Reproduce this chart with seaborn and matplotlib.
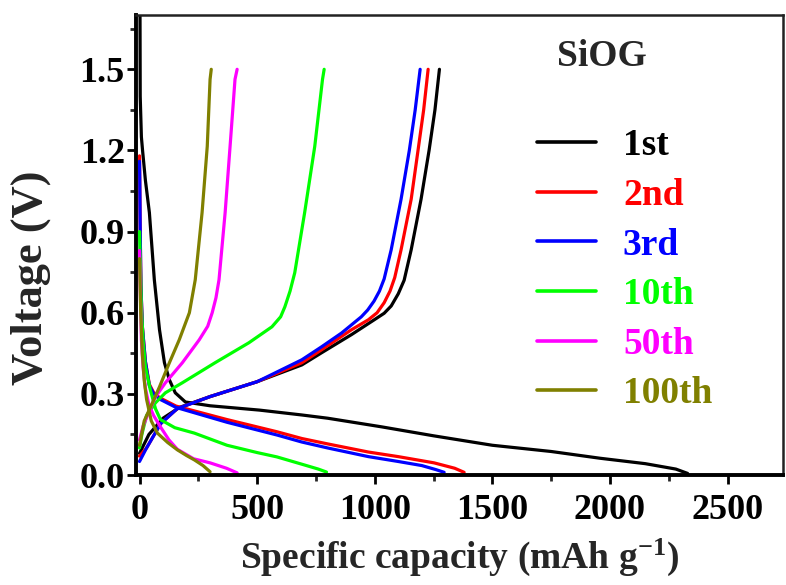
import numpy as np
import pandas as pd
import matplotlib
matplotlib.use("Agg")
import matplotlib.pyplot as plt
import seaborn as sns
from matplotlib.ticker import MultipleLocator, FormatStrFormatter
from matplotlib.lines import Line2D

# ---------------- data ----------------
cycles = ["1st", "2nd", "3rd", "10th", "50th", "100th"]
colors = ["#000000", "#FF0000", "#0000FF", "#00FF00", "#FF00FF", "#808000"]

# discharge branches (capacity mAh/g, voltage V)
d1_cap = [0, 3, 8, 13, 25, 42, 63, 85, 106, 127, 152, 195, 300, 510, 690, 800, 1030, 1250, 1500, 1750, 1958, 2150, 2280, 2330]
d1_v   = [2.5, 1.4, 1.25, 1.2, 1.09, 0.97, 0.722, 0.537, 0.415, 0.352, 0.304, 0.27, 0.256, 0.24, 0.222, 0.21, 0.178, 0.145, 0.11, 0.087, 0.062, 0.042, 0.022, 0.006]
d2_cap = [0, 1, 3, 6, 12, 25, 42, 60, 87, 155, 372, 584, 690, 800, 973, 1100, 1252, 1340, 1380]
d2_v   = [1.18, 1.1, 0.9, 0.7, 0.55, 0.42, 0.335, 0.305, 0.285, 0.255, 0.205, 0.16, 0.135, 0.115, 0.085, 0.068, 0.045, 0.025, 0.01]
d3_cap = [0, 1, 3, 6, 12, 25, 42, 60, 87, 155, 372, 584, 690, 800, 973, 1100, 1200, 1260, 1295]
d3_v   = [1.16, 1.1, 0.9, 0.7, 0.55, 0.42, 0.33, 0.3, 0.28, 0.25, 0.195, 0.148, 0.122, 0.1, 0.068, 0.05, 0.035, 0.02, 0.01]
d10_cap = [0, 3, 8, 15, 25, 46, 68, 89, 150, 233, 372, 500, 584, 690, 760, 795]
d10_v   = [0.9, 0.8, 0.62, 0.5, 0.4, 0.315, 0.245, 0.205, 0.175, 0.155, 0.11, 0.083, 0.067, 0.04, 0.022, 0.011]
d50_cap = [0, 3, 8, 15, 25, 40, 60, 89, 125, 161, 230, 300, 370, 415]
d50_v   = [0.83, 0.7, 0.5, 0.4, 0.32, 0.26, 0.22, 0.178, 0.13, 0.095, 0.06, 0.045, 0.025, 0.008]
d100_cap = [0, 5, 12, 20, 30, 50, 76, 120, 161, 200, 233, 270, 300]
d100_v   = [0.8, 0.6, 0.45, 0.35, 0.28, 0.2, 0.155, 0.12, 0.093, 0.072, 0.056, 0.035, 0.012]

# charge branches
c1_cap = [0, 40, 100, 170, 300, 500, 690, 774, 901, 998, 1040, 1070, 1100, 1125, 1155, 1197, 1231, 1256, 1275]
c1_v   = [0.08, 0.15, 0.21, 0.25, 0.29, 0.345, 0.407, 0.452, 0.519, 0.574, 0.598, 0.625, 0.67, 0.72, 0.833, 1.02, 1.2, 1.35, 1.5]
c2_cap = [0, 30, 90, 160, 300, 500, 690, 774, 901, 973, 1010, 1040, 1065, 1085, 1112, 1155, 1184, 1208, 1227]
c2_v   = [0.07, 0.10, 0.19, 0.245, 0.29, 0.345, 0.415, 0.463, 0.537, 0.574, 0.6, 0.637, 0.68, 0.73, 0.833, 1.02, 1.2, 1.35, 1.5]
c3_cap = [0, 30, 90, 160, 300, 500, 690, 774, 859, 943, 970, 997, 1020, 1040, 1070, 1112, 1147, 1172, 1193]
c3_v   = [0.05, 0.10, 0.19, 0.245, 0.29, 0.345, 0.426, 0.474, 0.525, 0.585, 0.61, 0.643, 0.68, 0.725, 0.833, 1.02, 1.2, 1.35, 1.5]
c10_cap = [0, 10, 30, 68, 110, 182, 321, 465, 563, 600, 618, 640, 660, 702, 745, 778, 785]
c10_v   = [0.1, 0.15, 0.22, 0.267, 0.304, 0.341, 0.415, 0.489, 0.548, 0.585, 0.622, 0.68, 0.748, 0.97, 1.215, 1.463, 1.5]
c50_cap = [0, 15, 40, 68, 110, 182, 254, 290, 309, 325, 338, 364, 385, 406, 415]
c50_v   = [0.13, 0.18, 0.235, 0.289, 0.341, 0.415, 0.5, 0.55, 0.6, 0.655, 0.722, 0.97, 1.215, 1.463, 1.5]
c100_cap = [0, 20, 55, 85, 127, 169, 212, 237, 266, 288, 300, 305]
c100_v   = [0.11, 0.2, 0.267, 0.326, 0.415, 0.5, 0.6, 0.722, 0.97, 1.215, 1.463, 1.5]

discharge = [(d1_cap, d1_v), (d2_cap, d2_v), (d3_cap, d3_v),
             (d10_cap, d10_v), (d50_cap, d50_v), (d100_cap, d100_v)]
charge = [(c1_cap, c1_v), (c2_cap, c2_v), (c3_cap, c3_v),
          (c10_cap, c10_v), (c50_cap, c50_v), (c100_cap, c100_v)]

rows = []
for name, (dc, dv), (cc, cv) in zip(cycles, discharge, charge):
    for x, y in zip(dc, dv):
        rows.append((name, "discharge", x, y))
    for x, y in zip(cc, cv):
        rows.append((name, "charge", x, y))
df = pd.DataFrame(rows, columns=["cycle", "branch", "cap", "V"])

# ---------------- style ----------------
sns.set_theme(style="ticks")
plt.rcParams["font.family"] = ["Liberation Serif", "DejaVu Serif"]
plt.rcParams["font.weight"] = "bold"
plt.rcParams["mathtext.fontset"] = "custom"
plt.rcParams["mathtext.rm"] = "Liberation Serif:bold"
plt.rcParams["mathtext.bf"] = "Liberation Serif:bold"
plt.rcParams["mathtext.it"] = "Liberation Serif:bold"

fig = plt.figure(figsize=(7.86, 5.85), dpi=100)
ax = fig.add_axes([0.173, 0.188, 0.823, 0.786])

palette = dict(zip(cycles, colors))
sns.lineplot(data=df, x="cap", y="V", hue="cycle", units="branch",
             estimator=None, sort=False, palette=palette, hue_order=cycles,
             linewidth=2.3, ax=ax, legend=False)
for ln in ax.lines:
    ln.set_solid_joinstyle("round")
    ln.set_solid_capstyle("round")

ax.set_xlim(-15, 2735)
ax.set_ylim(0, 1.70)
ax.xaxis.set_major_locator(MultipleLocator(500))
ax.xaxis.set_minor_locator(MultipleLocator(250))
ax.yaxis.set_major_locator(MultipleLocator(0.3))
ax.yaxis.set_minor_locator(MultipleLocator(0.15))
ax.yaxis.set_major_formatter(FormatStrFormatter("%.1f"))

ax.tick_params(axis="both", which="major", direction="out", length=6.5, width=2,
               labelsize=26, colors="black")
ax.tick_params(axis="x", which="major", pad=7)
ax.tick_params(axis="y", which="major", pad=1.5)
ax.tick_params(axis="both", which="minor", direction="out", length=4, width=2)
for lab in ax.get_xticklabels() + ax.get_yticklabels():
    lab.set_fontweight("bold")

for s in ["left", "bottom"]:
    ax.spines[s].set_linewidth(2.8)
    ax.spines[s].set_color("black")
for s in ["top", "right"]:
    ax.spines[s].set_linewidth(1.8)
    ax.spines[s].set_color("#222222")

ax.set_xlabel("Specific capacity (mAh g$^{-1}$)", fontsize=27, fontweight="bold")
ax.xaxis.set_label_coords(0.5, -0.135)
ax.set_ylabel("Voltage (V)", fontsize=32, fontweight="bold")
ax.yaxis.set_label_coords(-0.132, 0.428)

# legend
handles = [Line2D([], [], color=c, lw=2.6) for c in colors]
leg = ax.legend(handles, cycles, loc="upper left", bbox_to_anchor=(0.62, 0.754),
                frameon=False, fontsize=27, handlelength=1.57, handletextpad=0.72,
                labelspacing=0.39, borderaxespad=0, borderpad=0)
for t, c in zip(leg.get_texts(), colors):
    t.set_color(c)
    t.set_fontweight("bold")

ax.text(0.72, 0.911, "SiOG", transform=ax.transAxes, ha="center", va="center",
        fontsize=27, fontweight="bold")

fig.savefig("out.png", dpi=100)
